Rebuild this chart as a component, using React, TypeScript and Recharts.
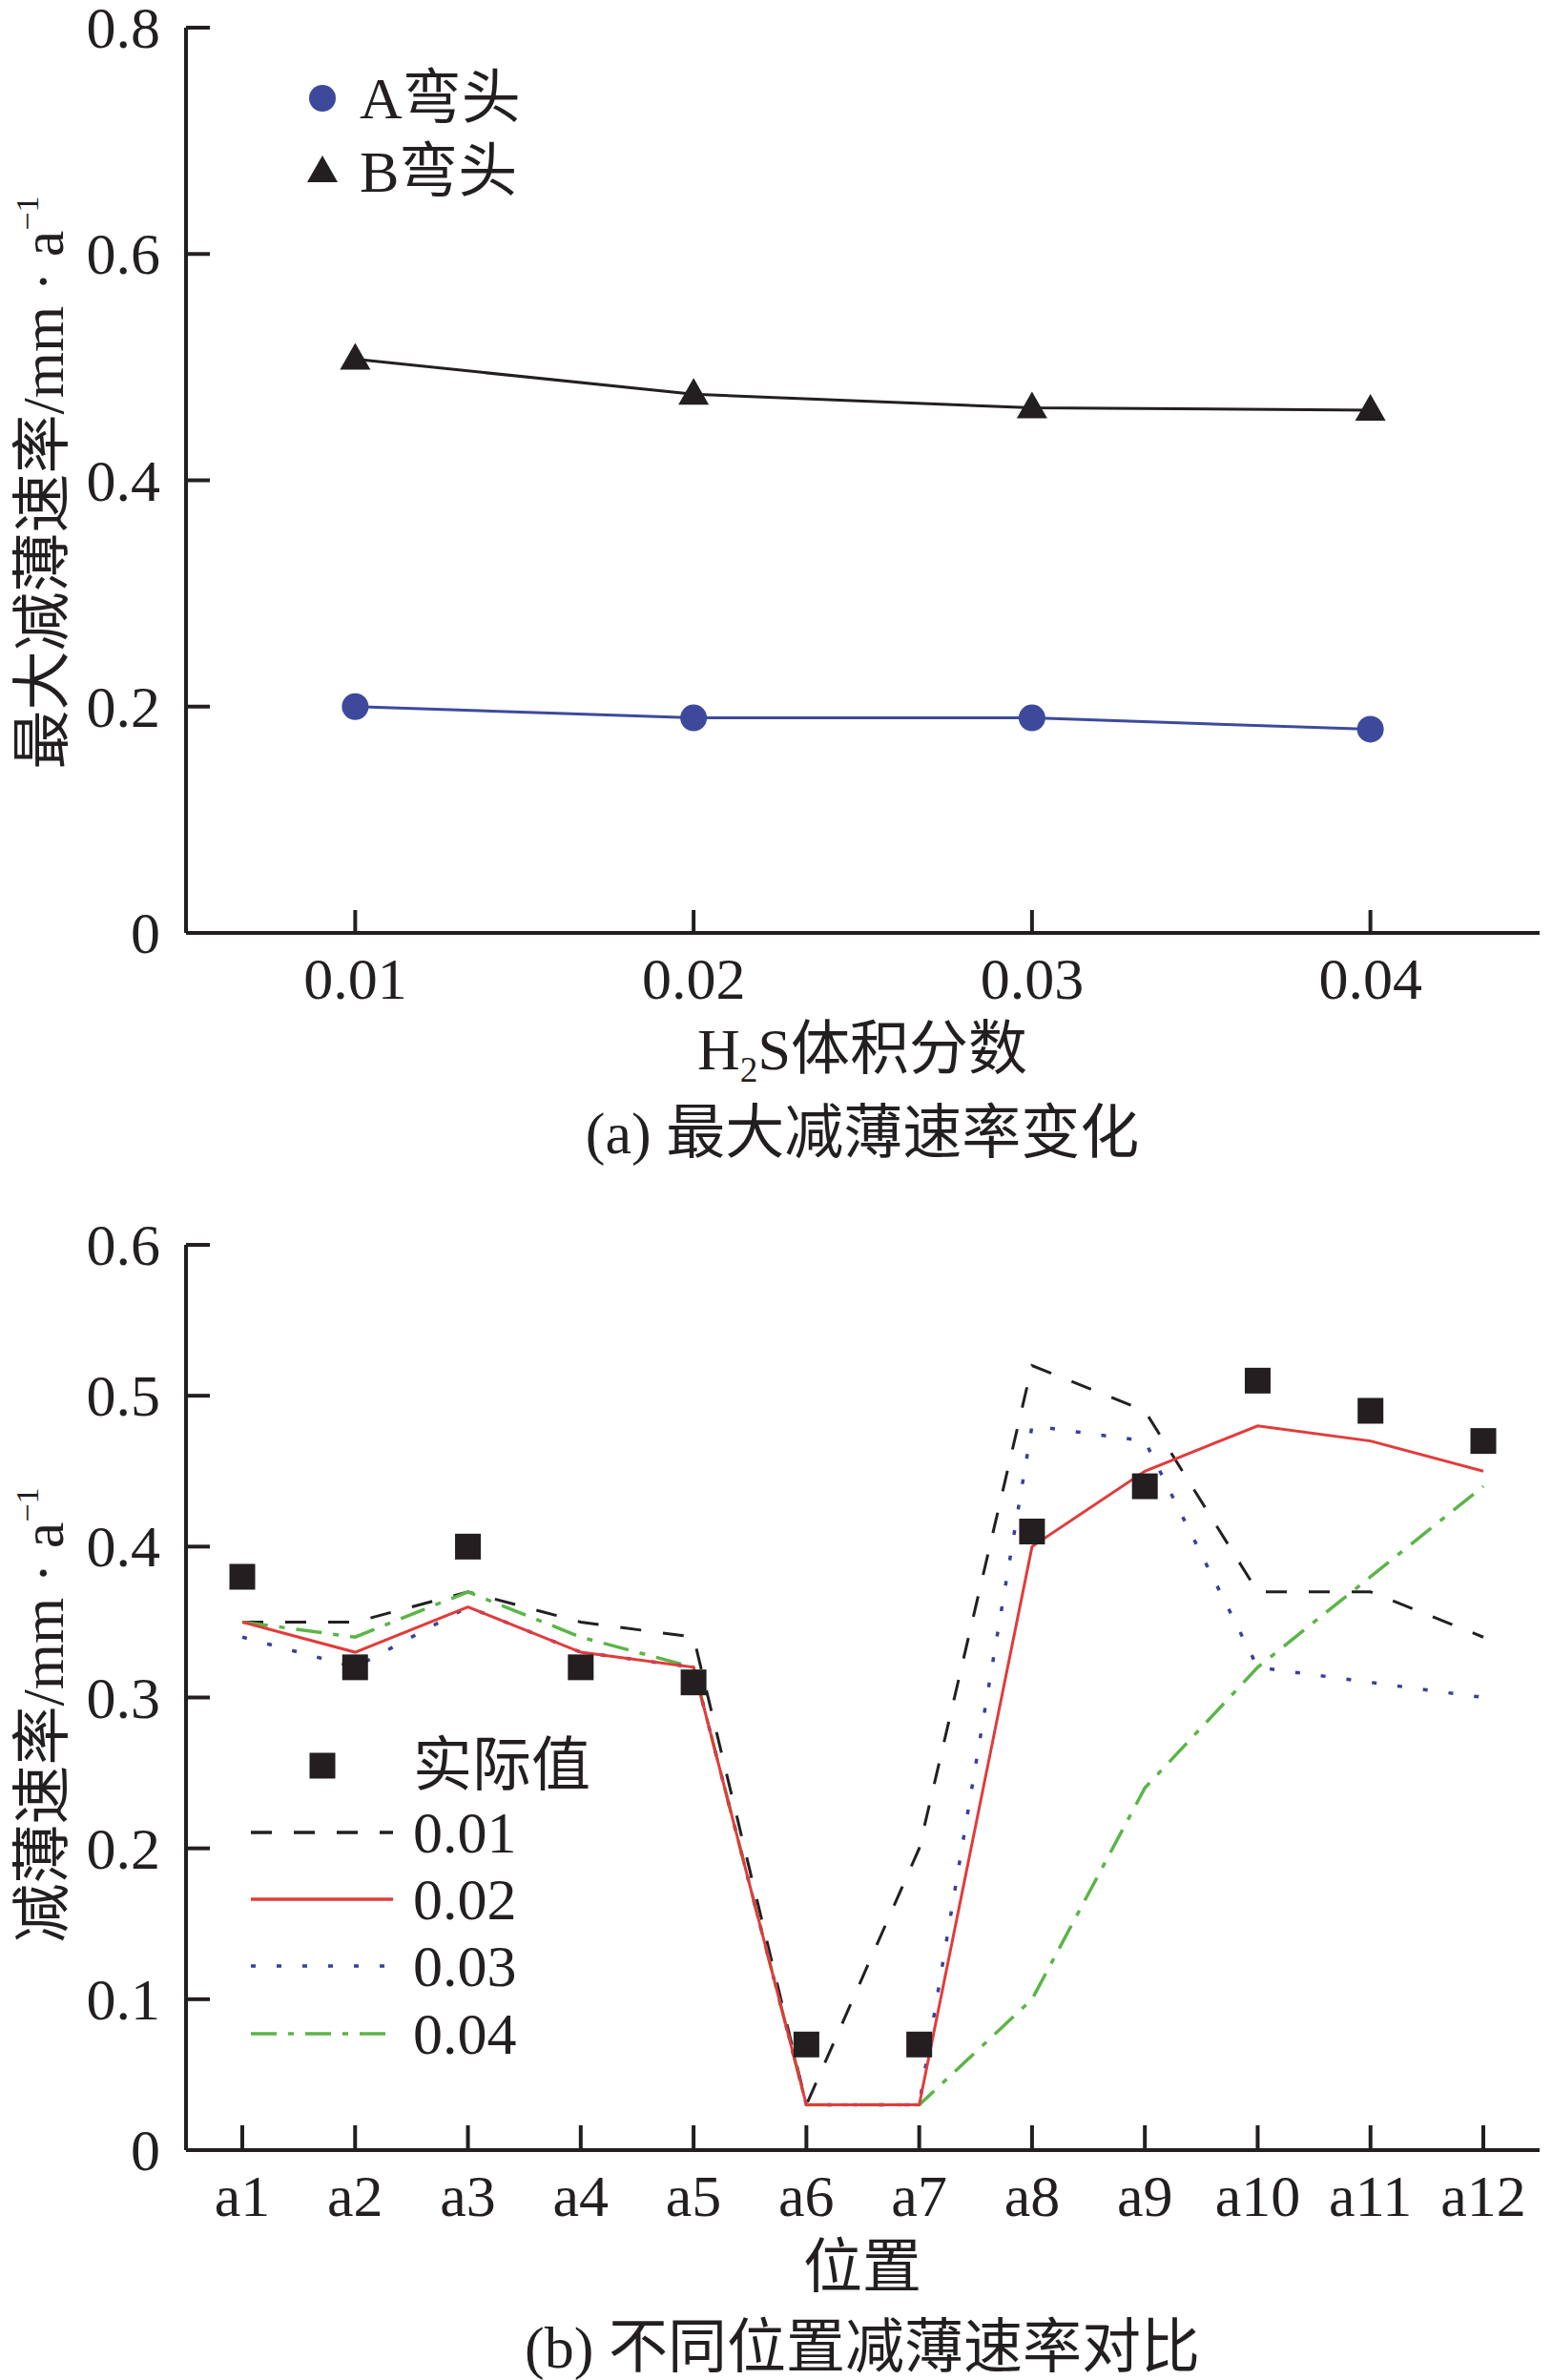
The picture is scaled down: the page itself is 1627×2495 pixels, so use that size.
import React from 'react';
import { LineChart, ComposedChart, Line, XAxis, YAxis } from 'recharts';

const FONT = '"Liberation Serif", "Times New Roman", "Noto Sans CJK SC", serif';
const INK = '#231f20';
const BLUE = '#3d4a9c';
const RED = '#e23b3b';
const DOT_BLUE = '#3b3f99';
const GREEN = '#5bb548';

// (a) max thinning rate vs H2S volume fraction
const h2sFractions = [0.01, 0.02, 0.03, 0.04];
const elbowA = [0.2, 0.19, 0.19, 0.18];
const elbowB = [0.507, 0.476, 0.464, 0.462];
const topYTicks = [0, 0.2, 0.4, 0.6, 0.8];

// (b) thinning rate by position
const positions = ['a1', 'a2', 'a3', 'a4', 'a5', 'a6', 'a7', 'a8', 'a9', 'a10', 'a11', 'a12'];
const measured = [0.38, 0.32, 0.4, 0.32, 0.31, 0.07, 0.07, 0.41, 0.44, 0.51, 0.49, 0.47];
const sim001 = [0.35, 0.35, 0.37, 0.35, 0.34, 0.03, 0.2, 0.52, 0.49, 0.37, 0.37, 0.34];
const sim002 = [0.35, 0.33, 0.36, 0.33, 0.32, 0.03, 0.03, 0.4, 0.45, 0.48, 0.47, 0.45];
const sim003 = [0.34, 0.32, 0.36, 0.33, 0.32, 0.03, 0.03, 0.48, 0.47, 0.32, 0.31, 0.3];
const sim004 = [0.35, 0.34, 0.37, 0.34, 0.32, 0.03, 0.03, 0.1, 0.24, 0.32, 0.38, 0.44];
const bottomYTicks = [0, 0.1, 0.2, 0.3, 0.4, 0.5, 0.6];

const topData = h2sFractions.map((x, i) => ({ x, A: elbowA[i], B: elbowB[i] }));
const bottomData = positions.map((pos, i) => ({
  pos,
  measured: measured[i],
  s1: sim001[i],
  s2: sim002[i],
  s3: sim003[i],
  s4: sim004[i],
}));

const frame = { stroke: INK, strokeWidth: 4 };
const yFmt = (v: number) => (v === 0 ? '0' : v.toFixed(1));

function XTick(props: any) {
  const { x, y, payload, len, fmt } = props;
  return (
    <g>
      <line x1={x} x2={x} y1={y} y2={y - len} stroke={INK} strokeWidth={4} />
      <text x={x} y={y + 48} textAnchor="middle" dominantBaseline="central"
        fontFamily={FONT} fontSize={62} fill={INK}>
        {fmt ? fmt(payload.value) : payload.value}
      </text>
    </g>
  );
}

function YTick(props: any) {
  const { x, y, payload } = props;
  return (
    <g>
      <line x1={x} x2={x + 25} y1={y} y2={y} stroke={INK} strokeWidth={4} />
      <text x={x - 27} y={y} textAnchor="end" dominantBaseline="central"
        fontFamily={FONT} fontSize={62} fill={INK}>
        {yFmt(payload.value)}
      </text>
    </g>
  );
}

const circleDot = (p: any) => <circle key={p.index} cx={p.cx} cy={p.cy} r={14} fill={BLUE} />;
const triDot = (p: any) => (
  <path key={p.index} d={`M${p.cx},${p.cy - 17}L${p.cx + 16},${p.cy + 11}L${p.cx - 16},${p.cy + 11}Z`} fill={INK} />
);
const squareDot = (p: any) => (
  <rect key={p.index} x={p.cx - 13.5} y={p.cy - 13.5} width={27} height={27} fill={INK} />
);

const txt: React.CSSProperties = {
  position: 'absolute',
  fontFamily: FONT,
  fontSize: 62,
  lineHeight: 1,
  color: INK,
  whiteSpace: 'nowrap',
};
const centered = (left: number, top: number): React.CSSProperties => ({
  ...txt, left, top, transform: 'translate(-50%, -50%)',
});
const rotated = (left: number, top: number): React.CSSProperties => ({
  ...txt, left, top, transform: 'translate(-50%, -50%) rotate(-90deg)',
});
const sup: React.CSSProperties = { fontSize: '0.55em', position: 'relative', top: '-0.75em', verticalAlign: 'baseline' };
const sub: React.CSSProperties = { fontSize: '0.6em', position: 'relative', top: '0.35em', verticalAlign: 'baseline' };

function LegendRow({ y, icon, label, iconX = 338, textX }: { y: number; icon: React.ReactNode; label: string; iconX?: number; textX: number }) {
  return (
    <>
      <svg style={{ position: 'absolute', left: iconX - 80, top: y - 20 }} width={160} height={40}>
        <g transform="translate(80,20)">{icon}</g>
      </svg>
      <div style={{ ...txt, left: textX, top: y, transform: 'translateY(-50%)' }}>{label}</div>
    </>
  );
}

const sample = (stroke: string, dash?: string) => (
  <line x1={-75} x2={74} y1={0} y2={0} stroke={stroke} strokeWidth={3.5} strokeDasharray={dash} />
);

export default function App() {
  return (
    <div style={{ position: 'absolute', left: 0, top: 0, width: 1627, height: 2495, background: '#fff' }}>
      <div style={{ position: 'absolute', left: 0, top: 0 }}>
        <LineChart width={1627} height={1250} data={topData} margin={{ top: 29, right: 13, left: 0, bottom: 172 }}
          style={{ overflow: 'visible' }}>
          <XAxis dataKey="x" type="number" domain={[0.005, 0.045]} ticks={h2sFractions} allowDataOverflow
            height={100} tickSize={0} tickMargin={0} tickLine={false} axisLine={frame}
            tick={(p: any) => <XTick {...p} len={24} fmt={(v: number) => v.toFixed(2)} />} />
          <XAxis xAxisId="top" orientation="top" height={0} tick={false} tickLine={false} axisLine={frame} />
          <YAxis type="number" domain={[0, 0.8]} ticks={topYTicks} width={195}
            tickSize={0} tickMargin={0} tickLine={false} axisLine={frame} tick={(p: any) => <YTick {...p} />} />
          <YAxis yAxisId="right" orientation="right" width={0} tick={false} tickLine={false} axisLine={frame} />
          <Line dataKey="A" type="linear" stroke={BLUE} strokeWidth={3} dot={circleDot} activeDot={false} isAnimationActive={false} />
          <Line dataKey="B" type="linear" stroke={INK} strokeWidth={3} dot={triDot} activeDot={false} isAnimationActive={false} />
        </LineChart>
      </div>

      <LegendRow y={103} textX={377} label="A弯头" icon={<circle r={14} fill={BLUE} />} />
      <LegendRow y={180} textX={377} label="B弯头" icon={<path d="M0,-17L16,11L-16,11Z" fill={INK} />} />

      <div style={rotated(45, 506)}>最大减薄速率/mm · a<span style={sup}>−1</span></div>
      <div style={centered(904, 1100)}>H<span style={sub}>2</span>S体积分数</div>
      <div style={centered(904, 1188)}>(a) 最大减薄速率变化</div>

      <div style={{ position: 'absolute', left: 0, top: 1250 }}>
        <ComposedChart width={1627} height={1245} data={bottomData} margin={{ top: 55, right: 13, left: 0, bottom: 141 }}
          style={{ overflow: 'visible' }}>
          <XAxis dataKey="pos" type="category" height={100} tickSize={0} tickMargin={0} tickLine={false}
            padding={{ left: 59, right: 59 }}
            axisLine={frame} interval={0} tick={(p: any) => <XTick {...p} len={26} />} />
          <XAxis xAxisId="top" orientation="top" height={0} tick={false} tickLine={false} axisLine={frame} />
          <YAxis type="number" domain={[0, 0.6]} ticks={bottomYTicks} width={195}
            tickSize={0} tickMargin={0} tickLine={false} axisLine={frame} tick={(p: any) => <YTick {...p} />} />
          <YAxis yAxisId="right" orientation="right" width={0} tick={false} tickLine={false} axisLine={frame} />
          <Line dataKey="s1" type="linear" stroke={INK} strokeWidth={3} strokeDasharray="22 23" dot={false} activeDot={false} isAnimationActive={false} />
          <Line dataKey="s4" type="linear" stroke={GREEN} strokeWidth={3.5} strokeDasharray="27 12 6 12" dot={false} activeDot={false} isAnimationActive={false} />
          <Line dataKey="s3" type="linear" stroke={DOT_BLUE} strokeWidth={3.5} strokeDasharray="5 22" dot={false} activeDot={false} isAnimationActive={false} />
          <Line dataKey="s2" type="linear" stroke={RED} strokeWidth={3} dot={false} activeDot={false} isAnimationActive={false} />
          <Line dataKey="measured" type="linear" stroke="none" dot={squareDot} activeDot={false} isAnimationActive={false} />
        </ComposedChart>
      </div>

      <LegendRow y={1851} textX={433} label="实际值" icon={<rect x={-13.5} y={-13.5} width={27} height={27} fill={INK} />} />
      <LegendRow y={1921} textX={433} label="0.01" icon={sample(INK, '22 23')} />
      <LegendRow y={1991} textX={433} label="0.02" icon={sample(RED)} />
      <LegendRow y={2061} textX={433} label="0.03" icon={sample(DOT_BLUE, '5 22')} />
      <LegendRow y={2132} textX={433} label="0.04" icon={sample(GREEN, '27 12 6 12')} />

      <div style={rotated(45, 1798)}>减薄速率/mm · a<span style={sup}>−1</span></div>
      <div style={centered(904, 2377)}>位置</div>
      <div style={centered(904, 2461)}>(b) 不同位置减薄速率对比</div>
    </div>
  );
}
